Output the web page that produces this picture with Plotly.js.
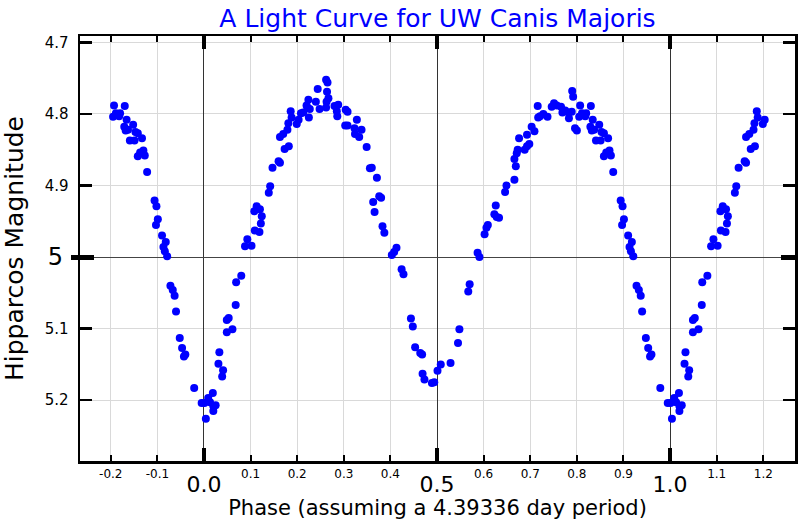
<!DOCTYPE html>
<html><head><meta charset="utf-8">
<script src="https://cdn.plot.ly/plotly-3.0.1.min.js"></script>
<style>html,body{margin:0;padding:0;background:#fff}#chart{width:800px;height:520px}</style>
</head><body><div id="chart"></div>
<script>
// Base observations folded into one cycle (phase 0..1), Hipparcos magnitude
const phase = [
 0.001,0.004,0.009,0.019,0.013,0.020,0.025,0.020,
 0.039,0.041,0.031,0.033,0.049,0.061,0.049,0.053,0.068,0.069,0.080,0.088,0.102,0.093,0.109,0.119,0.122,0.124,0.108,0.113,0.120,0.139,0.142,0.147,0.160,0.163,0.173,0.182,0.163,0.170,0.179,0.181,0.188,0.186,
 0.199,0.203,0.208,0.213,0.222,0.227,0.220,0.224,0.225,0.240,0.244,0.248,0.262,0.265,0.264,0.267,0.263,0.262,0.280,0.288,0.285,0.286,0.304,0.308,0.303,0.308,0.328,0.323,0.338,0.324,0.333,0.349,0.356,0.360,0.371,0.376,0.380,0.363,0.366,0.383,0.387,
 0.403,0.408,0.413,0.424,0.428,0.444,0.448,0.453,0.464,0.468,0.469,0.473,0.489,0.494,0.501,0.508,0.529,0.545,0.548,0.567,0.570,0.587,0.591,0.602,0.606,0.609,
 0.626,0.623,0.628,0.633,0.646,0.649,0.666,0.669,0.666,0.671,0.673,0.676,0.688,0.693,0.698,0.693,0.703,0.709,0.716,0.717,0.721,0.728,0.737,0.746,0.751,0.757,0.766,0.769,0.775,0.782,0.783,0.790,0.792,0.789,0.796,0.800,0.807,0.811,0.805,
 0.820,0.818,0.830,0.834,0.829,0.832,0.837,0.848,0.853,0.858,0.841,0.851,0.867,0.858,0.863,0.870,0.873,0.878,0.894,0.898,0.901,0.897,0.910,0.918,0.913,0.916,0.921,0.928,0.933,0.937,0.940,0.948,0.953,0.960,0.957,0.979,0.995
];
const magnitude = [
 5.204,5.226,5.197,5.190,5.203,5.208,5.207,5.215,
 5.167,5.158,5.149,5.133,5.105,5.101,5.088,5.085,5.067,5.035,5.026,4.985,4.984,4.975,4.963,4.965,4.953,4.943,4.936,4.929,4.933,4.910,4.901,4.875,4.866,4.868,4.849,4.845,4.832,4.828,4.822,4.813,4.805,4.796,
 4.814,4.808,4.799,4.798,4.791,4.793,4.788,4.780,4.805,4.783,4.765,4.793,4.752,4.756,4.769,4.778,4.783,4.791,4.789,4.787,4.796,4.803,4.794,4.797,4.816,4.816,4.808,4.820,4.822,4.828,4.832,4.846,4.876,4.875,4.889,4.915,4.917,4.923,4.937,4.957,4.966,
 4.997,4.993,4.987,5.017,5.024,5.086,5.097,5.126,5.134,5.136,5.163,5.171,5.176,5.175,5.159,5.150,5.148,5.120,5.101,5.048,5.038,4.994,5.000,4.968,4.959,4.955,
 4.928,4.940,4.944,4.945,4.909,4.900,4.892,4.873,4.863,4.855,4.850,4.834,4.850,4.845,4.842,4.829,4.818,4.824,4.789,4.805,4.803,4.800,4.804,4.790,4.785,4.788,4.790,4.798,4.795,4.798,4.806,4.768,4.776,4.797,4.820,4.823,4.788,4.799,4.804,
 4.799,4.803,4.789,4.808,4.818,4.823,4.822,4.815,4.825,4.827,4.837,4.837,4.834,4.859,4.854,4.851,4.858,4.881,4.921,4.929,4.947,4.955,4.970,4.979,4.986,4.992,4.999,5.040,5.046,5.054,5.076,5.113,5.127,5.136,5.139,5.183,5.204
];
const minorXTicks = [-0.2,-0.1,0.1,0.2,0.3,0.4,0.6,0.7,0.8,0.9,1.1,1.2];
const minorXLabels = ['-0.2','-0.1','0.1','0.2','0.3','0.4','0.6','0.7','0.8','0.9','1.1','1.2'];
const majorXTicks = [0, 0.5, 1];
const majorXLabels = ['0.0','0.5','1.0'];
const minorYTicks = [4.7,4.8,4.9,5.1,5.2];
const minorYLabels = ['4.7','4.8','4.9','5.1','5.2'];
const majorYTicks = [5];
const majorYLabels = ['5'];

// Light curve is shown over phase -0.2 .. 1.2, repeating the folded cycle
const shownPhase = [], shownMag = [];
for (let i = 0; i < phase.length; i++) {
  for (const cyc of [-1, 0, 1]) {
    const p = phase[i] + cyc;
    if (p >= -0.198 && p <= 1.205) { shownPhase.push(p); shownMag.push(magnitude[i]); }
  }
}

const FONT = 'DejaVu Sans, Verdana, sans-serif';
const xRange = [-0.266, 1.268];
const yRange = [5.285, 4.691];

const data = [
  {x: shownPhase, y: shownMag, type: 'scatter', mode: 'markers', xaxis: 'x', yaxis: 'y',
   marker: {color: '#0000ff', size: 8, line: {width: 0}}, hoverinfo: 'x+y'},
  {x: [], y: [], type: 'scatter', mode: 'markers', xaxis: 'x2', yaxis: 'y2', showlegend: false},
  {x: [], y: [], type: 'scatter', mode: 'markers', xaxis: 'x', yaxis: 'y3', showlegend: false}
];

const layout = {
  width: 800, height: 520,
  margin: {l: 80, r: 5, t: 36, b: 59},
  paper_bgcolor: '#ffffff', plot_bgcolor: '#ffffff',
  showlegend: false,
  font: {family: FONT, color: '#000'},
  title: {text: 'A Light Curve for UW Canis Majoris', font: {family: FONT, size: 25, color: '#0000ff'},
          x: 0.5, xref: 'paper', y: 1 - 18/520, yref: 'container', yanchor: 'middle'},
  xaxis: {
    range: xRange, autorange: false, tickmode: 'array', tickvals: minorXTicks, ticktext: minorXLabels,
    ticks: 'inside', ticklen: 6, tickwidth: 2, tickcolor: '#000',
    showline: true, linewidth: 2.5, linecolor: '#000', mirror: 'ticks',
    showgrid: true, gridcolor: '#d9d9d9', gridwidth: 1, zeroline: false,
    tickfont: {size: 12, family: FONT},
    title: {text: 'Phase (assuming a 4.39336 day period)', font: {size: 21, family: FONT}, standoff: 21}
  },
  xaxis2: {
    overlaying: 'x', anchor: 'y', side: 'bottom',
    range: xRange, autorange: false, tickmode: 'array', tickvals: majorXTicks, ticktext: majorXLabels,
    ticks: 'inside', ticklen: 13, tickwidth: 4, tickcolor: '#000', mirror: 'ticks',
    showline: false, showgrid: true, gridcolor: '#333', gridwidth: 1, zeroline: false,
    tickfont: {size: 22, family: FONT}, ticklabelstandoff: 8
  },
  yaxis: {
    range: yRange, autorange: false, tickmode: 'array', tickvals: minorYTicks, ticktext: minorYLabels,
    ticks: 'inside', ticklen: 12, tickwidth: 2.5, tickcolor: '#000',
    showline: true, linewidth: 2.5, linecolor: '#000', mirror: 'ticks',
    showgrid: true, gridcolor: '#d9d9d9', gridwidth: 1, zeroline: false,
    tickfont: {size: 15, family: FONT}, ticklabelstandoff: 6,
    title: {text: 'Hipparcos Magnitude', font: {size: 25, family: FONT}}
  },
  yaxis2: {
    overlaying: 'y', anchor: 'x', side: 'left',
    range: yRange, autorange: false, tickmode: 'array', tickvals: majorYTicks, ticktext: majorYLabels,
    ticks: 'inside', ticklen: 14, tickwidth: 5, tickcolor: '#000', mirror: 'ticks',
    showline: false, showgrid: true, gridcolor: '#444', gridwidth: 1, zeroline: false,
    tickfont: {size: 24, family: FONT}, ticklabelstandoff: 16
  },
  yaxis3: {
    overlaying: 'y', anchor: 'x', side: 'left',
    range: yRange, autorange: false, tickmode: 'array', tickvals: majorYTicks,
    ticks: 'outside', ticklen: 8, tickwidth: 5, tickcolor: '#000', showticklabels: false,
    showline: false, showgrid: false, zeroline: false
  }
};

Plotly.newPlot('chart', data, layout, {displayModeBar: false, staticPlot: true});
</script>
</body></html>
